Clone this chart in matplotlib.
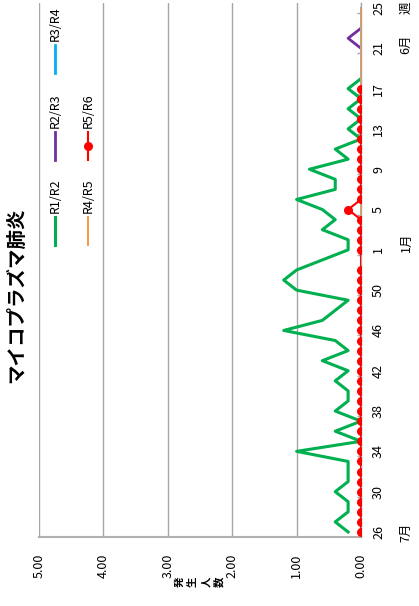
import numpy as np
import matplotlib
matplotlib.use('Agg')
import matplotlib.pyplot as plt
from matplotlib import transforms
from matplotlib.lines import Line2D

plt.rcParams['font.family'] = ['Noto Sans CJK JP', 'DejaVu Sans']

nan = np.nan

# weeks 26..53 of last year, then 1..25
weeks = list(range(26, 54)) + list(range(1, 26))

r1_r2 = [0.2, 0.4, 0.2, 0.2, 0.4, 0.2, 0.2, 0.2, 1.0, 0.0, 0.4, 0.0, 0.4, 0.2,
         0.2, 0.4, 0.2, 0.6, 0.2, 0.4, 1.2, 0.6, 0.4, 0.2, 1.0, 1.2, 1.0, nan,
         0.2, 0.2, 0.6, 0.4, 0.6, 1.0, 0.4, 0.4, 0.8, 0.2, 0.4, 0.0, 0.2, 0.0,
         0.2, 0.0, 0.2, 0.0, nan, nan, nan, nan, nan, nan, nan]
r2_r3 = [nan] * 48 + [0.0, 0.2, 0.0, nan, nan]
r3_r4 = [nan] * 45 + [0.0, 0.0, 0.0, 0.0, 0.0, 0.0, 0.0, 0.0]
r4_r5 = [nan] * 28 + [0.0] * 25
r5_r6 = [0.0] * 27 + [nan] + [0.0, 0.0, 0.0, 0.0, 0.2] + [0.0] * 12 + [nan] * 8

series = [('R1/R2', r1_r2), ('R2/R3', r2_r3), ('R3/R4', r3_r4),
          ('R4/R5', r4_r5), ('R5/R6', r5_r6)]
colors = ['#00b050', '#7030a0', '#00b0f0', '#f79646', '#ff0000']
widths = [2.2, 2.0, 2.0, 1.4, 1.5]

W, H = 419, 606
fig = plt.figure(figsize=(W / 100, H / 100), dpi=100)

# the chart is shown turned a quarter turn counter-clockwise
ax = fig.add_axes([39 / W, (H - 537) / H, (361 - 39) / W, (537 - 3) / H])
idx = np.arange(len(weeks))

for (name, vals), c, lw in zip(series, colors, widths):
    v = np.array(vals, dtype=float)
    ok = ~np.isnan(v)
    if name == 'R5/R6':
        ax.plot(v[ok], idx[ok], color=c, lw=lw, marker='o', ms=5.5, zorder=5)
    else:
        ax.plot(v[ok], idx[ok], color=c, lw=lw, zorder=3)

ax.set_xlim(5, 0)
ax.set_ylim(-0.5, len(weeks) - 0.5)

ax.set_xticks([0, 1, 2, 3, 4, 5])
ax.set_xticklabels(['%.2f' % t for t in [0, 1, 2, 3, 4, 5]], rotation=90, fontsize=9)
ax.tick_params(axis='x', length=0, pad=12)
ax.grid(axis='x', color='#a6a6a6', lw=1.0)

ax.yaxis.tick_right()
ax.set_yticks(idx[::4])
ax.set_yticklabels([str(weeks[i]) for i in idx[::4]], rotation=90, fontsize=9, va='center')
ax.tick_params(axis='y', length=0, pad=8)
ax.set_yticks(np.arange(3.5, len(weeks), 4), minor=True)
ax.tick_params(axis='y', which='minor', direction='in', length=3, color='#a6a6a6', width=1)

for s in ['top', 'left']:
    ax.spines[s].set_visible(False)
ax.spines['bottom'].set_color('#b0b0b0')
ax.spines['bottom'].set_linewidth(1.5)
ax.spines['right'].set_color('#a6a6a6')
ax.spines['right'].set_linewidth(1.0)

# month labels beside the week labels
tr = transforms.blended_transform_factory(ax.transAxes, ax.transData)
xm = (406 - 39) / (361 - 39)
for txt, pos in [('7月', 0), ('1月', 28.8), ('6月', 48.4), ('週', 52)]:
    ax.text(xm, pos, txt, transform=tr, rotation=90, ha='center', va='center', fontsize=9)

fig.text(17 / W, 1 - 295 / H, 'マイコプラズマ肺炎', rotation=90, ha='center', va='center',
         fontsize=14, fontweight='bold')

# stacked axis title
for i, ch in enumerate('発生人数'):
    fig.text((180 + 13 * i) / W, 1 - 582 / H, ch, rotation=90, ha='center', va='center',
             fontsize=7.5, fontweight='bold')

# legend, drawn by hand since it is turned too
leg_pos = [(55, 215), (55, 130), (55, 43), (88, 215), (88, 130)]
for (name, _), c, lw, (lx, ly) in zip(series, colors, widths, leg_pos):
    fig.add_artist(Line2D([lx / W, lx / W], [1 - (ly + 2) / H, 1 - (ly + 30) / H],
                          color=c, lw=lw, transform=fig.transFigure))
    if name == 'R5/R6':
        fig.add_artist(Line2D([lx / W], [1 - (ly + 16) / H], color=c, marker='o', ms=5.5,
                              transform=fig.transFigure))
    fig.text(lx / W, 1 - (ly - 2) / H, name, rotation=90, ha='center', va='bottom', fontsize=9)

fig.savefig('out.png', dpi=100)
